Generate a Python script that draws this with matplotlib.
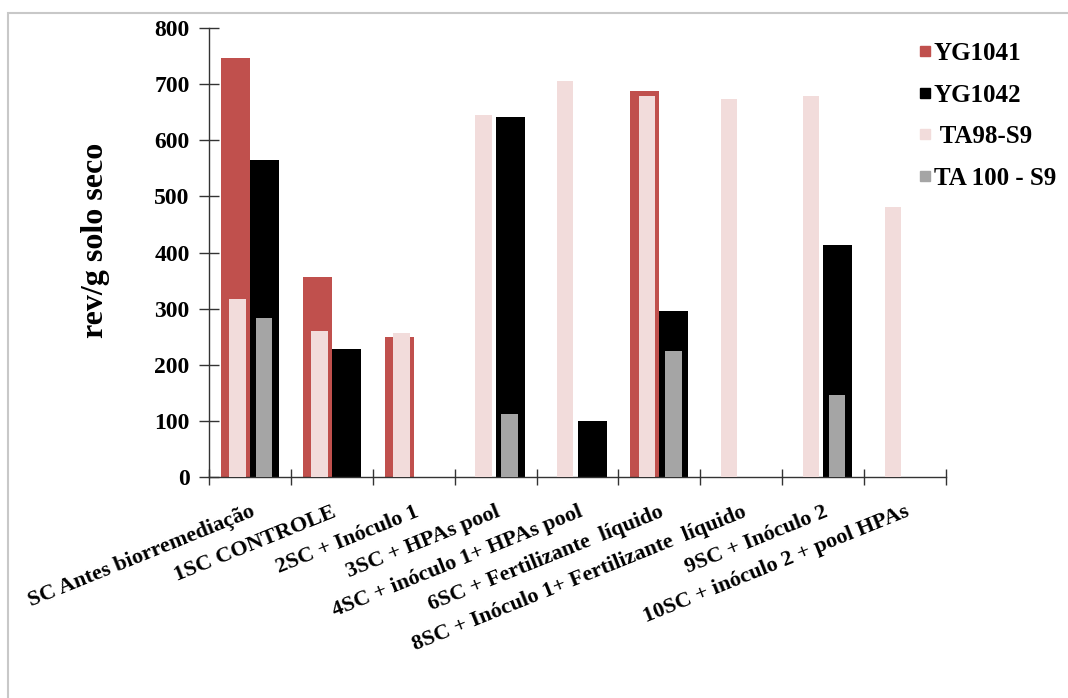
import matplotlib
matplotlib.use("Agg")
import matplotlib.pyplot as plt
import numpy as np
from matplotlib.lines import Line2D
from matplotlib.patches import Rectangle

plt.rcParams['font.family'] = ['Liberation Serif', 'DejaVu Serif']
plt.rcParams['font.weight'] = 'bold'

# data
categories = [
    "SC Antes biorremediação",
    "1SC CONTROLE",
    "2SC + Inóculo 1",
    "3SC + HPAs pool",
    "4SC + inóculo 1+ HPAs pool",
    "6SC + Fertilizante  líquido",
    "8SC + Inóculo 1+ Fertilizante  líquido",
    "9SC + Inóculo 2",
    "10SC + inóculo 2 + pool HPAs",
]
yg1041 = [747, 356, 249, 0, 0, 687, 0, 0, 0]
yg1042 = [565, 228, 0, 641, 100, 295, 0, 414, 0]
ta98_s9 = [318, 260, 256, 645, 706, 678, 674, 679, 481]
ta100_s9 = [283, 0, 0, 112, 0, 225, 0, 147, 0]
yticks = [0, 100, 200, 300, 400, 500, 600, 700, 800]

c_red = '#C0504D'
c_black = '#000000'
c_pink = '#F2DCDB'
c_gray = '#A5A5A5'

fig = plt.figure(figsize=(10.68, 6.98), dpi=100)
ax = fig.add_axes([0.1957, 0.3166, 0.6901, 0.6433])

x = np.arange(len(categories)) + 0.5

# primary (wide) bars
ax.bar(x - 0.177, yg1041, width=0.354, color=c_red, zorder=2)
ax.bar(x + 0.177, yg1042, width=0.354, color=c_black, zorder=2)
# secondary (narrow) bars drawn on top
ax.bar(x - 0.15, ta98_s9, width=0.2, color=c_pink, zorder=3)
ax.bar(x + 0.17, ta100_s9, width=0.2, color=c_gray, zorder=3)

ax.set_xlim(0, len(categories))
ax.set_ylim(0, 800)
ax.set_yticks(yticks)
ax.set_yticklabels([str(v) for v in yticks], fontsize=17, fontweight='bold')

ax.set_xticks(np.arange(len(categories) + 1))
ax.set_xticklabels([])
ax.set_xticks(x, categories, minor=True)
ax.tick_params(axis='x', which='major', direction='inout', length=12, width=1, color='#333333')
ax.tick_params(axis='x', which='minor', length=0, pad=18)
ax.tick_params(axis='y', direction='inout', length=14, width=1, color='#333333', pad=7)
plt.setp(ax.get_xticklabels(minor=True), rotation=22, ha='right',
         rotation_mode='anchor', fontsize=16, fontweight='bold')

for side in ['top', 'right']:
    ax.spines[side].set_visible(False)
for side in ['left', 'bottom']:
    ax.spines[side].set_color('#333333')
    ax.spines[side].set_linewidth(1)

ax.set_ylabel('rev/g solo seco', fontsize=23, fontweight='bold')
ax.yaxis.set_label_coords(-0.134, 0.528)

handles = [
    Line2D([], [], ls='none', marker='s', markersize=6.5, color=c_red),
    Line2D([], [], ls='none', marker='s', markersize=6.5, color=c_black),
    Line2D([], [], ls='none', marker='s', markersize=6.5, color=c_pink),
    Line2D([], [], ls='none', marker='s', markersize=6.5, color=c_gray),
]
labels = ['YG1041', 'YG1042', ' TA98-S9', 'TA 100 - S9']
fig.legend(handles, labels, loc='upper left', bbox_to_anchor=(0.839, 0.972),
           frameon=False, prop={'size': 18, 'weight': 'bold'},
           handlelength=0.5, handletextpad=0.1, labelspacing=0.74)

# light frame around the chart area
fig.patches.append(Rectangle((8 / 1068, -0.1), 2, (698 - 13) / 698 + 0.1,
                             transform=fig.transFigure, fill=False,
                             edgecolor='#C8C8C8', linewidth=1.5))

fig.savefig('out.png', dpi=100)
